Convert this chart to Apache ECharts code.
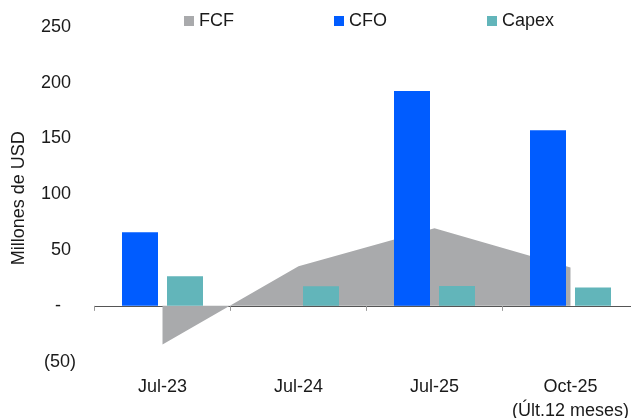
<!DOCTYPE html>
<html>
<head>
<meta charset="utf-8">
<script src="https://cdn.jsdelivr.net/npm/echarts@6/dist/echarts.min.js"></script>
<style>
  html, body { margin: 0; padding: 0; background: #fff; }
  #chart { width: 631px; height: 418px; }
</style>
</head>
<body>
<div id="chart"></div>
<script>
// valores (millones de USD)
const categories = ['Jul-23', 'Jul-24', 'Jul-25', 'Oct-25\n(Últ.12 meses)'];
const fcf = [-34.5, 35.5, 69.5, 34.3];
const cfo = [65.9, null, 192.5, 157.2];
const capex = [26.5, 17.6, 17.9, 16.4];
const yTicks = [-50, 0, 50, 100, 150, 200, 250];

const FONT = '"Liberation Sans", Arial, sans-serif';
const TXT = '#1a1a1a';

const chart = echarts.init(document.getElementById('chart'), null, { renderer: 'canvas' });

// formato contable: (50), -, 50
function fmt(v) {
    if (v < 0) return '(' + Math.abs(v) + ')';
    if (v === 0) return '-\u2007 ';
    return v + ' ';
}

chart.setOption({
    animation: false,
    backgroundColor: '#fff',
    textStyle: { fontFamily: FONT, color: TXT },
    legend: {
        left: 179,
        top: 7,
        itemWidth: 10,
        itemHeight: 10,
        itemGap: 100,
        icon: 'rect',
        textStyle: { fontFamily: FONT, fontSize: 18, color: TXT },
        data: ['FCF', 'CFO', 'Capex']
    },
    // el eje sigue mas alla del borde derecho
    grid: { left: 94.5, width: 544, top: 26.7, bottom: 56.3, outerBoundsMode: 'none' },
    xAxis: [
        {
            type: 'category',
            data: categories,
            position: 'bottom',
            axisLine: { show: false, onZero: false },
            axisTick: { show: false },
            axisLabel: {
                fontFamily: FONT, fontSize: 18, color: TXT,
                margin: 13, lineHeight: 24, interval: 0
            }
        },
        {
            type: 'category',
            data: categories,
            position: 'bottom',
            axisLine: { show: true, onZero: true, lineStyle: { color: '#555', width: 1 } },
            axisTick: { show: true, length: 5, lineStyle: { color: '#999' } },
            axisLabel: { show: false }
        }
    ],
    yAxis: {
        type: 'value',
        min: -50,
        max: 250,
        interval: 50,
        name: 'Millones de USD',
        nameLocation: 'middle',
        nameGap: 66,
        nameTextStyle: { fontFamily: FONT, fontSize: 18, color: TXT, padding: [0, 8, 0, 0] },
        axisLine: { show: false },
        axisTick: { show: false },
        splitLine: { show: false },
        axisLabel: {
            fontFamily: FONT, fontSize: 18, color: TXT, margin: 18.5,
            formatter: v => yTicks.includes(v) ? fmt(v) : ''
        }
    },
    series: [
        {
            name: 'FCF',
            type: 'line',
            data: fcf,
            z: 1,
            symbol: 'none',
            lineStyle: { width: 0 },
            itemStyle: { color: '#a9aaac' },
            areaStyle: { color: '#a9aaac', opacity: 1 }
        },
        {
            name: 'CFO',
            type: 'bar',
            data: cfo,
            z: 3,
            barWidth: 36,
            barGap: '25%',
            itemStyle: { color: '#005cff' }
        },
        {
            name: 'Capex',
            type: 'bar',
            data: capex,
            z: 3,
            barWidth: 36,
            itemStyle: { color: '#62b5ba' }
        }
    ]
});
</script>
</body>
</html>
